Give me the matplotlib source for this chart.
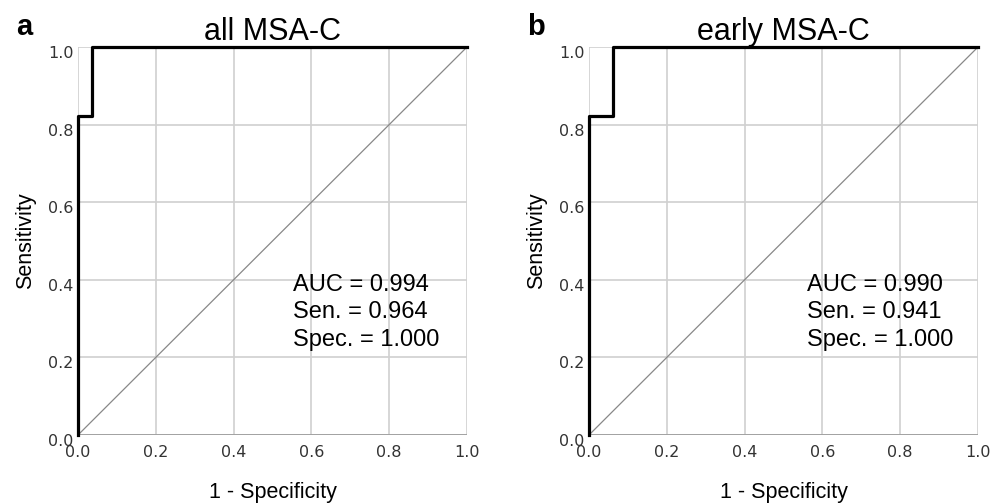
import matplotlib.pyplot as plt
import matplotlib.transforms as mtransforms

plt.rcParams['font.family'] = ['Liberation Sans', 'DejaVu Sans']

panels = ['a', 'b']
titles = ['all MSA-C', 'early MSA-C']
roc_fpr = [[0.0, 0.0, 0.036, 0.036, 1.0], [0.0, 0.0, 0.061, 0.061, 1.0]]
roc_tpr = [[0.0, 0.822, 0.822, 1.0, 1.0], [0.0, 0.822, 0.822, 1.0, 1.0]]
stats = [['AUC = 0.994', 'Sen. = 0.964', 'Spec. = 1.000'],
         ['AUC = 0.990', 'Sen. = 0.941', 'Spec. = 1.000']]
ticks = [0.0, 0.2, 0.4, 0.6, 0.8, 1.0]

fig = plt.figure(figsize=(10.03, 5.03), dpi=100)
lefts = [78, 589]
shift = mtransforms.ScaledTranslation(0, -5 / 100, fig.dpi_scale_trans)
for i in range(2):
    ax = fig.add_axes([lefts[i] / 1003, 68 / 503, 389 / 1003, 388 / 503])
    ax.set_xlim(0, 1)
    ax.set_ylim(0, 1)
    ax.set_xticks(ticks)
    ax.set_yticks(ticks)
    ax.set_xticklabels([f'{t:.1f}' for t in ticks], family='DejaVu Sans')
    ax.set_yticklabels([f'{t:.1f}' for t in ticks], family='DejaVu Sans')
    ax.tick_params(length=0, labelsize=11.5, colors='#333333')
    ax.tick_params(axis='x', pad=7)
    ax.tick_params(axis='y', pad=3)
    for lab in ax.get_yticklabels():
        lab.set_transform(lab.get_transform() + shift)
    ax.grid(True, color='#d0d0d0', linewidth=1.2)
    for s in ax.spines.values():
        s.set_visible(False)
    ax.plot([0, 1], [0, 1], color='#888888', linewidth=0.9)
    ax.plot(roc_fpr[i], roc_tpr[i], color='black', linewidth=2.3, clip_on=False, zorder=5)
    ax.axhline(0, color='#999999', linewidth=1.2)
    for j, s in enumerate(stats[i]):
        ax.text(0.553 + 0.007 * i, 0.387 - j * 0.071, s, fontsize=17, va='center', ha='left')
    ax.set_title(titles[i], fontsize=22, pad=5)
    ax.set_xlabel('1 - Specificity', fontsize=15.5, labelpad=16)
    ax.set_ylabel('Sensitivity', fontsize=15.5, labelpad=9)
    fig.text((lefts[i] - 62) / 1003, 1 - 35 / 503, panels[i], fontsize=21, fontweight='bold',
             va='baseline', ha='left')

fig.savefig('out.png', dpi=100)
